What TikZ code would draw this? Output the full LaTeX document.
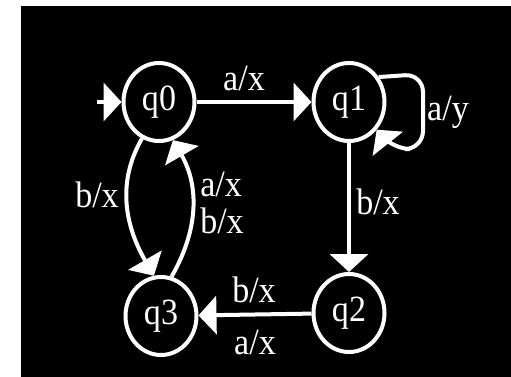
\documentclass[tikz,border=0pt]{standalone}
\usepackage{fontspec}
\setmainfont{Liberation Serif}
\newfontfamily\lblfont[FakeStretch=0.92]{Liberation Serif}
\usetikzlibrary{arrows.meta,shapes.geometric}
\begin{document}
\begin{tikzpicture}[x=1pt,y=1pt,
  state/.style={draw=white, line width=4pt, ellipse, minimum width=71pt,
    minimum height=78pt, inner sep=0pt, text=white,
    font=\lblfont\fontsize{37}{37}\selectfont},
  edge/.style={draw=white, line width=4pt,
    -{Triangle[length=18pt,width=38pt]}},
  lbl/.style={text=white, font=\lblfont\fontsize{37}{37}\selectfont,
    inner sep=0pt, align=left}]
\useasboundingbox (0,0) rectangle (511,-377);
\fill[white] (0,0) rectangle (511,-377);
\fill[black] (21,-6) rectangle (511,-377);
% states
\node[state] (q0) at (159,-102) {q0};
\node[state] (q1) at (349,-102) {q1};
\node[state] (q2) at (349,-313) {q2};
\node[state] (q3) at (161,-316) {q3};
\coordinate (init) at (97,-102);
% transitions
\draw[edge] (init) -- (q0);
\draw[edge] (q0) -- (q1);
\draw[edge] (q1) -- (q2);
\draw[edge] (q2) -- (q3);
\draw[edge, rounded corners=18pt] (q1.40) -- (423,-74) -- (423,-149) -- (392,-149) -- (q1.-45);
\draw[edge] (q0.245) to[out=240, in=120] (q3.100);
\draw[edge] (q3.75) to[out=60, in=-60] (q0.290);
% labels
\node[lbl] (l01) at (244,-78) {a/x};
\node[lbl] (l11) at (448,-112) {a/y};
\node[lbl] (l12) at (378,-202) {b/x};
\node[lbl] (l23a) at (254,-290) {b/x};
\node[lbl] (l23b) at (255,-342) {a/x};
\node[lbl] (l03) at (97,-195) {b/x};
\node[lbl] (l30) at (222,-203) {a/x\\b/x};
\end{tikzpicture}
\end{document}
